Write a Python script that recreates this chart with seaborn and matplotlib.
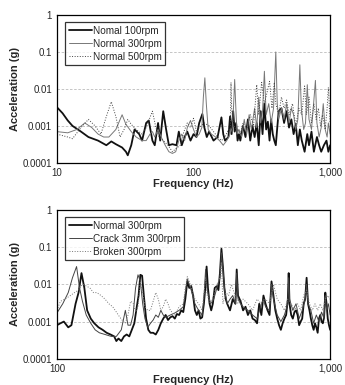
import seaborn as sns
import matplotlib.pyplot as plt
import matplotlib.ticker as mticker
import pandas as pd

# ---- top chart: normal shaft, different speeds ----
f_n100 = [10, 11, 12, 13, 15, 17, 20, 23, 25, 27, 30, 32, 33, 35, 37, 40, 42, 45, 47, 50,
          52, 55, 57, 60, 63, 66, 70, 75, 78, 82, 86, 90, 95, 100, 105, 110, 116, 120, 125, 130,
          140, 150, 160, 165, 170, 180, 185, 190, 195, 200, 205, 210, 215, 220, 230, 240, 250, 260, 270, 280,
          290, 300, 310, 320, 330, 340, 350, 360, 370, 380, 390, 400, 410, 420, 440, 460, 480, 500, 520, 540,
          560, 580, 600, 620, 650, 680, 700, 730, 760, 800, 830, 860, 900, 940, 970, 1000]
a_n100 = [0.0032, 0.0022, 0.0014, 0.0010, 0.0007, 0.0005, 0.0004, 0.0003, 0.00038, 0.00032,
          0.00026, 0.0002, 0.00016, 0.0003, 0.0008, 0.0006, 0.0004, 0.0012, 0.0014, 0.0004,
          0.0003, 0.0012, 0.0004, 0.0025, 0.0008, 0.0003, 0.00032, 0.0003, 0.0007, 0.0003,
          0.0005, 0.0007, 0.0004, 0.0006, 0.0005, 0.0012, 0.0021, 0.0009, 0.0005, 0.0007,
          0.0004, 0.0005, 0.0017, 0.0006, 0.0004, 0.0005, 0.0018, 0.0006, 0.0025, 0.0007,
          0.0012, 0.0004, 0.0006, 0.0004, 0.001, 0.0005, 0.0015, 0.0004, 0.001, 0.0005,
          0.0012, 0.0003, 0.0025, 0.0006, 0.004, 0.0008, 0.0013, 0.0004, 0.0015, 0.0006,
          0.0004, 0.0003, 0.0009, 0.0025, 0.003, 0.0012, 0.0025, 0.0009, 0.0015, 0.0006,
          0.0011, 0.0003, 0.0008, 0.0004, 0.0002, 0.0006, 0.0003, 0.0007, 0.0002, 0.0005,
          0.0003, 0.0002, 0.0003, 0.0004, 0.0002, 0.0003]

f_n300 = [10, 12, 14, 16, 18, 20, 22, 24, 27, 30, 32, 35, 38, 42, 45, 48, 50, 52, 55, 58,
          62, 66, 70, 74, 78, 82, 86, 90, 95, 100, 105, 110, 115, 118, 121, 124, 128, 135, 145, 155,
          165, 175, 185, 192, 196, 200, 204, 208, 215, 225, 235, 245, 255, 265, 280, 290, 300, 310, 320, 330,
          340, 355, 370, 385, 400, 410, 420, 440, 460, 480, 500, 520, 540, 560, 580, 600, 615, 640, 660, 680,
          700, 730, 760, 780, 800, 830, 860, 890, 920, 950, 970, 1000]
a_n300 = [0.0007, 0.00065, 0.0008, 0.0012, 0.0009, 0.0006, 0.0005, 0.0005, 0.0008, 0.002,
          0.0011, 0.0007, 0.0005, 0.0004, 0.0004, 0.0006, 0.0007, 0.0005, 0.0008, 0.0005,
          0.0003, 0.0002, 0.00018, 0.0002, 0.0004, 0.0006, 0.0004, 0.0009, 0.0014, 0.0008,
          0.0005, 0.0006, 0.0009, 0.006, 0.02, 0.004, 0.0008, 0.0006, 0.0005, 0.0004,
          0.0003, 0.0004, 0.0006, 0.0009, 0.003, 0.018, 0.003, 0.0006, 0.0008, 0.0005,
          0.0015, 0.0006, 0.002, 0.0008, 0.003, 0.0009, 0.006, 0.0012, 0.0025, 0.03,
          0.002, 0.004, 0.0012, 0.003, 0.1, 0.004, 0.0015, 0.003, 0.0015, 0.004,
          0.0012, 0.003, 0.002, 0.0008, 0.0015, 0.045, 0.003, 0.0008, 0.0012, 0.013,
          0.0015, 0.0008, 0.005, 0.017, 0.0012, 0.0005, 0.0009, 0.004, 0.0008, 0.0005,
          0.0012, 0.0006]

f_n500 = [10, 12, 13, 15, 17, 19, 21, 23, 25, 27, 29, 31, 33, 35, 38, 42, 45, 50, 53, 56,
          60, 65, 70, 75, 80, 85, 90, 95, 100, 105, 110, 120, 130, 140, 150, 160, 170, 180, 186, 188,
          190, 195, 200, 210, 220, 230, 245, 260, 275, 290, 300, 315, 330, 345, 360, 375, 390, 400, 420, 440,
          460, 480, 500, 530, 560, 590, 620, 650, 670, 700, 730, 760, 790, 820, 850, 880, 920, 950, 970, 1000]
a_n500 = [0.0006, 0.0005, 0.00045, 0.0009, 0.0015, 0.001, 0.0006, 0.0018, 0.0045, 0.0018,
          0.0005, 0.0008, 0.0015, 0.0011, 0.0008, 0.0006, 0.0009, 0.0025, 0.0009, 0.0005,
          0.0004, 0.0003, 0.0002, 0.00025, 0.0003, 0.0007, 0.0012, 0.0009, 0.0016, 0.0007,
          0.0009, 0.0012, 0.001, 0.0007, 0.0005, 0.0004, 0.0005, 0.0008, 0.0008, 0.015,
          0.003, 0.0012, 0.0009, 0.0008, 0.0006, 0.0012, 0.0008, 0.002, 0.001, 0.013,
          0.002, 0.015, 0.004, 0.008, 0.016, 0.003, 0.015, 0.004, 0.002, 0.006,
          0.003, 0.005, 0.002, 0.004, 0.001, 0.003, 0.002, 0.012, 0.002, 0.006,
          0.0012, 0.004, 0.0015, 0.003, 0.001, 0.002, 0.0008, 0.003, 0.011, 0.0012]

# ---- bottom chart: 300rpm, shaft condition ----
f_norm = [100, 103, 106, 110, 113, 117, 120, 123, 126, 129, 133, 137, 142, 147, 152, 157, 162, 165, 168, 172,
          176, 180, 184, 188, 192, 196, 199, 202, 205, 208, 212, 216, 220, 225, 230, 235, 240, 245, 250, 255,
          260, 265, 270, 275, 280, 285, 290, 295, 300, 305, 310, 315, 320, 325, 330, 335, 340, 345, 350, 353,
          357, 362, 367, 372, 378, 385, 390, 395, 400, 405, 410, 415, 420, 430, 440, 450, 455, 460, 470, 480,
          490, 500, 510, 520, 530, 540, 550, 560, 570, 580, 590, 600, 610, 620, 630, 640, 650, 660, 670, 680,
          690, 700, 705, 710, 720, 730, 740, 750, 760, 770, 780, 790, 800, 810, 820, 830, 840, 850, 860, 870,
          880, 890, 900, 910, 920, 930, 940, 950, 960, 970, 980, 990, 1000]
a_norm = [0.0008, 0.0009, 0.001, 0.0007, 0.0008, 0.003, 0.006, 0.02, 0.008, 0.002,
          0.0012, 0.0009, 0.0007, 0.0006, 0.0005, 0.00045, 0.0004, 0.0003, 0.00035, 0.0003,
          0.0004, 0.00045, 0.0004, 0.0006, 0.0009, 0.0025, 0.005, 0.018, 0.017, 0.005,
          0.0012, 0.0006, 0.0005, 0.0005, 0.00045, 0.0006, 0.0009, 0.0012, 0.0015, 0.0011,
          0.0013, 0.0014, 0.0012, 0.0016, 0.0015, 0.002, 0.0018, 0.004, 0.012, 0.008,
          0.009, 0.005, 0.002, 0.0015, 0.002, 0.0012, 0.0013, 0.003, 0.01, 0.03,
          0.008, 0.003, 0.002, 0.003, 0.008, 0.009, 0.007, 0.02, 0.09, 0.03,
          0.008, 0.004, 0.003, 0.002, 0.004, 0.003, 0.025, 0.005, 0.0035, 0.002,
          0.0025, 0.0015, 0.002, 0.0012, 0.0011, 0.0009, 0.003, 0.0015, 0.005, 0.003,
          0.002, 0.0015, 0.012, 0.005, 0.002, 0.0012, 0.0008, 0.0006, 0.0009, 0.0012,
          0.0015, 0.004, 0.02, 0.003, 0.0015, 0.0012, 0.0018, 0.002, 0.0015, 0.0008,
          0.001, 0.0012, 0.003, 0.004, 0.015, 0.003, 0.002, 0.0012, 0.0008, 0.0006,
          0.0009, 0.0007, 0.0005, 0.0012, 0.0015, 0.001, 0.0009, 0.0013, 0.006, 0.003,
          0.0012, 0.0008, 0.0006]

f_crack = [100, 105, 110, 114, 118, 121, 124, 128, 133, 138, 143, 150, 158, 165, 172, 178, 182, 186, 190, 194,
           198, 202, 206, 210, 215, 220, 225, 230, 235, 240, 245, 250, 260, 270, 280, 290, 295, 300, 305, 310,
           320, 330, 340, 345, 350, 355, 365, 375, 385, 395, 400, 405, 412, 420, 430, 440, 450, 455, 460, 470,
           480, 500, 520, 540, 560, 570, 580, 600, 610, 620, 640, 660, 680, 700, 705, 710, 730, 750, 770, 790,
           810, 820, 830, 850, 870, 890, 910, 930, 950, 960, 970, 985, 1000]
a_crack = [0.0017, 0.003, 0.006, 0.015, 0.03, 0.008, 0.0035, 0.0015, 0.0009, 0.0006,
           0.0005, 0.00045, 0.0004, 0.0004, 0.0006, 0.002, 0.0008, 0.0008, 0.0015, 0.008,
           0.018, 0.012, 0.003, 0.0012, 0.0007, 0.0009, 0.0011, 0.0015, 0.0013, 0.002,
           0.0015, 0.0013, 0.0015, 0.0017, 0.002, 0.0025, 0.006, 0.014, 0.01, 0.007,
           0.003, 0.002, 0.0015, 0.004, 0.025, 0.007, 0.003, 0.004, 0.008, 0.015,
           0.07, 0.025, 0.006, 0.003, 0.004, 0.005, 0.003, 0.02, 0.004, 0.003,
           0.0025, 0.002, 0.0015, 0.0012, 0.003, 0.004, 0.0025, 0.002, 0.01, 0.004,
           0.0015, 0.001, 0.0015, 0.003, 0.015, 0.004, 0.002, 0.003, 0.0012, 0.002,
           0.004, 0.01, 0.003, 0.002, 0.0009, 0.0015, 0.001, 0.0018, 0.0012, 0.005,
           0.002, 0.003, 0.0015]

f_broken = [100, 103, 107, 112, 116, 120, 124, 128, 132, 136, 140, 145, 150, 155, 160, 165, 170, 175, 178, 182,
            186, 190, 194, 198, 202, 206, 210, 215, 220, 225, 230, 235, 240, 245, 250, 255, 260, 270, 280, 290,
            295, 300, 305, 310, 320, 330, 340, 350, 355, 365, 375, 385, 395, 400, 405, 415, 425, 435, 445, 460,
            480, 500, 520, 540, 560, 580, 600, 620, 640, 660, 680, 700, 720, 740, 760, 780, 800, 820, 840, 860,
            880, 900, 920, 940, 960, 980, 1000]
a_broken = [0.002, 0.0035, 0.004, 0.005, 0.006, 0.007, 0.01, 0.009, 0.008, 0.006,
            0.006, 0.005, 0.004, 0.003, 0.0025, 0.0018, 0.0013, 0.001, 0.0009, 0.0015,
            0.0035, 0.0032, 0.0018, 0.0025, 0.012, 0.006, 0.0025, 0.002, 0.002, 0.0035,
            0.006, 0.004, 0.002, 0.0025, 0.004, 0.003, 0.002, 0.0015, 0.0025, 0.003,
            0.008, 0.016, 0.012, 0.008, 0.004, 0.003, 0.002, 0.015, 0.005, 0.003,
            0.005, 0.01, 0.015, 0.04, 0.003, 0.006, 0.005, 0.01, 0.006, 0.003,
            0.004, 0.003, 0.002, 0.004, 0.003, 0.004, 0.003, 0.01, 0.004, 0.003,
            0.002, 0.004, 0.003, 0.002, 0.003, 0.002, 0.005, 0.007, 0.003, 0.002,
            0.003, 0.002, 0.003, 0.002, 0.004, 0.005, 0.004]

sns.set_style("white")
plt.rcParams['font.family'] = ['Liberation Sans', 'DejaVu Sans']

fig = plt.figure(figsize=(3.45, 3.85), dpi=100)
ax1 = fig.add_axes([0.165, 0.577, 0.792, 0.384])
ax2 = fig.add_axes([0.165, 0.068, 0.792, 0.387])


def draw(ax, series, xlim):
    for f, a, lab, col, lw, ls in series:
        df = pd.DataFrame({'f': f, 'a': a})
        sns.lineplot(data=df, x='f', y='a', ax=ax, color=col, lw=lw, ls=ls,
                     label=lab, estimator=None, sort=False)
    ax.set_xscale('log')
    ax.set_yscale('log')
    ax.set_xlim(*xlim)
    ax.set_ylim(0.0001, 1)
    ax.yaxis.set_major_locator(mticker.LogLocator(base=10, numticks=10))
    ax.yaxis.set_minor_locator(mticker.LogLocator(base=10, subs=range(2, 10), numticks=20))
    ax.yaxis.set_major_formatter(mticker.FuncFormatter(lambda v, p: f"{v:g}" if v >= 0.001 else "0.0001"))
    ax.yaxis.set_minor_formatter(mticker.NullFormatter())
    ax.xaxis.set_major_formatter(mticker.FuncFormatter(lambda v, p: f"{v:,.0f}"))
    ax.xaxis.set_minor_formatter(mticker.NullFormatter())
    ax.tick_params(which='both', direction='in', labelsize=7, color='black', width=0.6)
    ax.tick_params(which='major', length=3)
    ax.tick_params(which='minor', length=2)
    for yv in [0.001, 0.01, 0.1]:
        ax.axhline(yv, color='#bbbbbb', lw=0.6, ls=(0, (3, 2)), zorder=0)
    for s in ax.spines.values():
        s.set_color('black')
        s.set_linewidth(0.9)
    ax.set_xlabel('Frequency (Hz)', fontsize=8, fontweight='bold', labelpad=1)
    ax.set_ylabel('Acceleration (g)', fontsize=8, fontweight='bold', labelpad=2)
    leg = ax.legend(loc='upper left', bbox_to_anchor=(0.03, 0.95), fontsize=7.2,
                    frameon=True, fancybox=False, handlelength=2.3, handletextpad=0.1,
                    borderpad=0.35, labelspacing=0.3, borderaxespad=0)
    leg.get_frame().set_edgecolor('black')
    leg.get_frame().set_linewidth(0.9)


draw(ax1, [
    (f_n100, a_n100, 'Nomal 100rpm', '#111111', 1.3, '-'),
    (f_n300, a_n300, 'Normal 300rpm', '#777777', 0.7, '-'),
    (f_n500, a_n500, 'Normal 500rpm', '#444444', 0.7, ':'),
], (10, 1000))

draw(ax2, [
    (f_norm, a_norm, 'Normal 300rpm', '#111111', 1.3, '-'),
    (f_crack, a_crack, 'Crack 3mm 300rpm', '#444444', 0.7, '-'),
    (f_broken, a_broken, 'Broken 300rpm', '#777777', 0.7, ':'),
], (100, 1000))

fig.savefig('out.png', dpi=100)
